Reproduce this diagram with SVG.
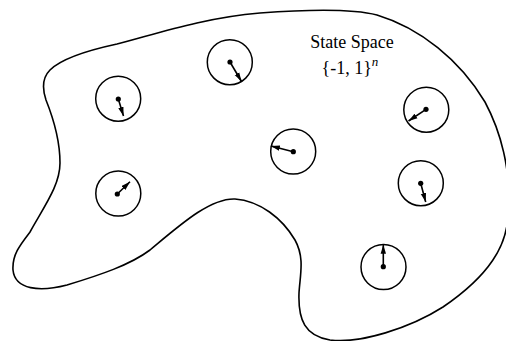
<svg xmlns="http://www.w3.org/2000/svg" width="506" height="341" viewBox="0 0 506 341">
<style>
.ring{fill:none;stroke:#000;stroke-width:1.5}
.dot{fill:#000}
.spin{stroke:#000;stroke-width:1.6;fill:none;marker-end:url(#ah)}
.outline{fill:none;stroke:#000;stroke-width:1.6}
.lbl{font-family:"Liberation Serif","Times New Roman",serif;font-size:18px;fill:#000}
</style>
<defs>
<marker id="ah" markerUnits="userSpaceOnUse" markerWidth="10" markerHeight="8" refX="9" refY="3" orient="auto">
<path d="M0,0.3 L9,3 L0,5.7 Z" fill="#000"/>
</marker>
</defs>
<g id="state-space">
<path class="outline" d="M46,100 C42,88 42,78 50,70 C60,60 80,52 117,44 C150,36 200,18 260,13 C300,10 350,8 377,15 C420,28 460,60 485,102 C500,130 512,170 508,215 C507,245 490,275 443,307 C410,328 360,344 330,340 C305,336 298,320 299,293 C300,275 305,258 295,240 C282,218 260,201 235,199 C210,198 180,225 150,250 C130,265 100,275 67,285 C40,292 15,290 13,270 C12,255 20,245 30,232 C45,205 60,185 60,163 C60,140 52,115 46,100 Z"/>
<text class="lbl" x="352" y="47.5" text-anchor="middle">State Space</text>
<text class="lbl" x="321.5" y="73.5">{-1, 1}<tspan font-style="italic" font-size="13" dy="-8">n</tspan></text>
</g>
<g id="spin1"><circle class="ring" cx="118.2" cy="98.7" r="22.5"/><circle class="dot" cx="118.3" cy="99" r="2.6"/></g>
<g id="spin2"><circle class="ring" cx="229.8" cy="62.2" r="22.5"/><circle class="dot" cx="230" cy="62" r="2.6"/></g>
<g id="spin3"><circle class="ring" cx="118.3" cy="193.5" r="22.5"/><circle class="dot" cx="117.3" cy="194" r="2.6"/></g>
<g id="spin4"><circle class="ring" cx="293.2" cy="151.5" r="22.5"/><circle class="dot" cx="293.3" cy="151.7" r="2.6"/></g>
<g id="spin5"><circle class="ring" cx="426.3" cy="109.7" r="22.5"/><circle class="dot" cx="426" cy="109.3" r="2.6"/></g>
<g id="spin6"><circle class="ring" cx="420.8" cy="183.2" r="22.5"/><circle class="dot" cx="420.7" cy="183.3" r="2.6"/></g>
<g id="spin7"><circle class="ring" cx="383.5" cy="267" r="22.5"/><circle class="dot" cx="383.3" cy="266.7" r="2.6"/></g>
<g id="connectors">
<line class="spin" x1="118.3" y1="99" x2="123.5" y2="116"/>
<line class="spin" x1="230" y1="62" x2="241.5" y2="81.5"/>
<line class="spin" x1="117.3" y1="194" x2="130" y2="181.7"/>
<line class="spin" x1="293.3" y1="151.7" x2="270.9" y2="146"/>
<line class="spin" x1="426" y1="109.3" x2="408.5" y2="121"/>
<line class="spin" x1="420.7" y1="183.3" x2="425.7" y2="202"/>
<line class="spin" x1="383.3" y1="266.7" x2="383.3" y2="244.8"/>
</g>
</svg>
